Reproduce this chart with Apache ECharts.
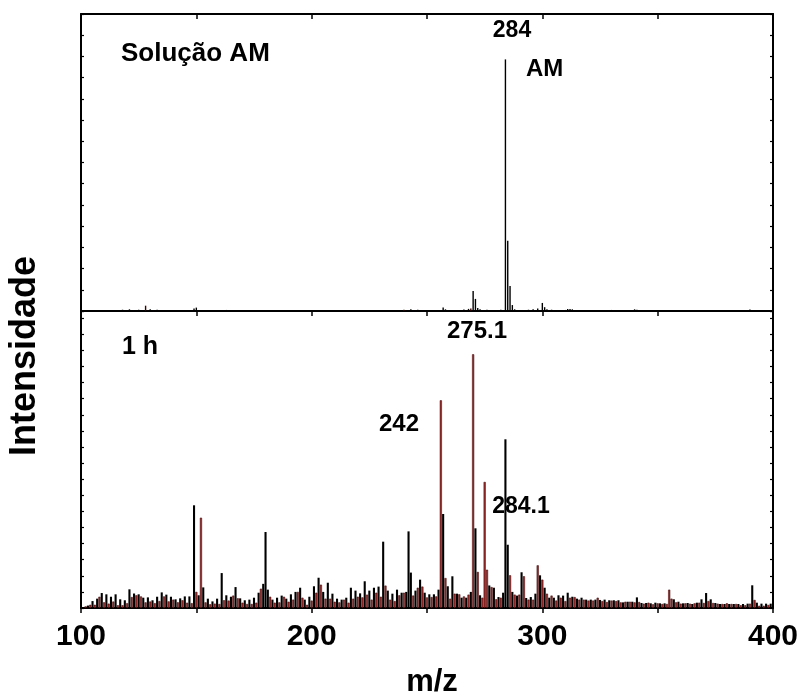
<!DOCTYPE html>
<html>
<head>
<meta charset="utf-8">
<script src="https://cdn.jsdelivr.net/npm/echarts@6/dist/echarts.min.js"></script>
<style>
html,body{margin:0;padding:0;background:#fff;}
#chart{width:803px;height:694px;}
</style>
</head>
<body>
<div id="chart"></div>
<script>
// ---- Data ----
// Top panel: "Solução AM" spectrum (m/z, relative intensity)
const mzAM = [110, 118, 121, 125, 128, 130, 133, 140, 149, 150, 163, 175, 200, 228, 240, 243, 246, 250, 257, 258, 266, 268, 269, 270, 271, 272, 273, 276, 282, 283, 284, 285, 286, 287, 288, 290, 294, 296, 298, 300, 301, 302, 304, 310, 311, 312, 313, 320, 330, 340, 341, 355, 365, 373, 390, 393];
const intensityAM = [0.5, 0.6, 0.8, 0.6, 2.5, 0.8, 0.6, 0.5, 1.2, 1.6, 0.5, 0.4, 0.4, 0.4, 0.6, 0.8, 0.6, 0.5, 1.6, 0.8, 0.7, 1.0, 1.2, 9.4, 5.7, 1.4, 0.8, 0.6, 0.6, 0.5, 118.6, 33.1, 11.8, 2.8, 0.8, 0.5, 0.6, 0.8, 1.2, 3.8, 1.8, 0.8, 0.6, 0.5, 0.9, 1.0, 0.8, 0.4, 0.5, 0.8, 0.6, 0.4, 0.4, 0.4, 0.7, 0.5];
const redAM = [128, 240, 269];

// Bottom panel: "1 h" spectrum, one value per integer m/z starting at 101
const mzStart1h = 101;
const intensity1h = [
  0.5, 1, 1.5, 2, 4.3, 2, 5.8, 7, 9.3, 3.5,
  8.5, 2.7, 7, 4, 8.5, 1.7, 5.4, 1.7, 4.8, 3,
  11.6, 6.8, 9, 7.9, 8.5, 7.2, 6.4, 3.5, 6.6, 4,
  4.8, 3, 7, 4.3, 9.7, 7.2, 8.3, 4.1, 7, 5.2,
  5.4, 3.5, 6, 4.8, 7.2, 3.3, 7.2, 3, 63.8, 10,
  7.9, 56.1, 12.8, 3.5, 5.8, 2.3, 4.1, 2.7, 5.8, 2.5,
  21.7, 4.8, 7.9, 4.6, 7, 7.7, 13, 6, 6, 3.3,
  4.8, 2.5, 5.2, 2.5, 6.4, 3.3, 9.5, 12, 15, 47.2,
  11.4, 7, 5.2, 3.3, 6.4, 3.5, 7.7, 7, 5.8, 3.9,
  8.5, 5.2, 10, 10, 12.6, 6.4, 5.2, 2, 7, 4.6,
  13.5, 9.5, 18.8, 14.5, 10, 5.8, 15.7, 5.8, 8.9, 3.9,
  5.8, 3.5, 5.2, 5.2, 6.4, 3.3, 12.6, 5.8, 10.8, 7,
  9.1, 6.6, 16.6, 8.3, 10.8, 5.2, 12.6, 9.5, 13.3, 7,
  41.2, 13.9, 10.8, 5.2, 8.9, 4.3, 11.4, 7.9, 9.5, 9.5,
  10, 47.6, 22, 7.7, 10.8, 12.6, 17.6, 13.3, 9.5, 6.6,
  8.5, 6.8, 8.5, 7.2, 11.4, 129, 58.4, 18.6, 13.5, 5.8,
  19.7, 8.9, 8.9, 8.5, 6.4, 7.2, 6.4, 8.3, 10, 157.6,
  49.5, 22.4, 7.9, 6.4, 78.3, 23.8, 14, 13, 12.6, 5.4,
  6.8, 6.4, 9.5, 104.8, 39.3, 20.3, 10, 8.3, 7.7, 8.3,
  22.2, 19.7, 6.2, 5.2, 6.8, 5.2, 8.9, 26.5, 20.3, 17.6,
  12.6, 8.9, 6.4, 7.7, 6.4, 4.6, 7.9, 6.4, 7.7, 4.3,
  9.5, 6.4, 7, 6.8, 5.8, 5.2, 6.4, 5.2, 5.2, 4.6,
  5.2, 4.6, 5.2, 6.4, 5, 4.3, 5.2, 3.7, 4.8, 4.6,
  4.8, 4.3, 4.8, 3.5, 3.5, 3.9, 3.9, 3.9, 3.9, 3.5,
  6.6, 3.7, 3.1, 2.7, 3.1, 3.3, 2.9, 2.3, 3.3, 2.9,
  2.9, 2.5, 2.9, 2.5, 11.4, 5.8, 5.4, 3.5, 3.9, 2.7,
  2.9, 2.9, 3.1, 2.7, 2.5, 2.9, 3.3, 3.3, 5.4, 3.1,
  9.3, 4.3, 5.4, 3.1, 3.1, 2.7, 2.5, 2.5, 2.5, 2.9,
  2.5, 2.5, 2.5, 2.5, 2.5, 1.7, 2.5, 1.7, 2.7, 2.7,
  14.1, 5, 3.3, 1.4, 2.7, 1.4, 2.7, 1.9, 2.7
];
const blackEvenPeaks = [180, 242, 284];
const redOddPeaks = [275, 355];

const xTickLabels = [100, 200, 300, 400];
const panelLabels = ['Solução AM', '1 h'];
const peakLabelsAM = ['284', 'AM'];
const peakLabels1h = ['275.1', '242', '284.1'];
const xAxisTitle = 'm/z';
const yAxisTitle = 'Intensidade';

// ---- Styles ----
const FONT = "'Liberation Sans', Arial, Helvetica, sans-serif";
const BLACK = '#000000';
const RED_FILL = '#9a2c2c';
const RED_EDGE = '#3c0000';

const dataAM = mzAM.map((m, i) => {
  const red = redAM.indexOf(m) >= 0;
  return { value: [m, intensityAM[i]], itemStyle: { color: red ? RED_EDGE : BLACK } };
});
const data1h = intensity1h.map((v, i) => {
  const m = mzStart1h + i;
  let red = (m % 2 === 0);
  if (blackEvenPeaks.indexOf(m) >= 0) red = false;
  if (redOddPeaks.indexOf(m) >= 0) red = true;
  return {
    value: [m, v],
    itemStyle: red ? { color: RED_FILL, borderColor: RED_EDGE, borderWidth: 0.5 } : { color: BLACK }
  };
});

function xAxisCfg(gridIndex, position, showLabels, tickInside, tickShow) {
  return {
    type: 'value', gridIndex: gridIndex, position: position,
    min: 100, max: 400, interval: 50,
    axisLine: { show: true, onZero: false, lineStyle: { color: BLACK, width: 2 } },
    axisTick: { show: tickShow, inside: tickInside, length: 5, lineStyle: { color: BLACK, width: 1.5 } },
    axisLabel: {
      show: showLabels, margin: 14,
      color: BLACK, fontFamily: FONT, fontWeight: 'bold', fontSize: 30,
      formatter: function (v) { return xTickLabels.indexOf(v) >= 0 ? String(v) : ''; }
    },
    splitLine: { show: false }
  };
}
function yAxisCfg(gridIndex, position, max) {
  return {
    type: 'value', gridIndex: gridIndex, position: position,
    min: 0, max: max, interval: 10,
    axisLine: { show: true, onZero: false, lineStyle: { color: BLACK, width: 2 } },
    axisTick: { show: true, inside: true, length: 3, lineStyle: { color: BLACK, width: 1.2 } },
    axisLabel: { show: false },
    splitLine: { show: false }
  };
}

const labelStyle = (size) => ({ fill: BLACK, font: 'bold ' + size + 'px ' + FONT });

const option = {
  animation: false,
  backgroundColor: '#ffffff',
  grid: [
    { left: 81, width: 692, top: 14, height: 297 },
    { left: 81, width: 692, top: 311, height: 297 }
  ],
  xAxis: [
    xAxisCfg(0, 'bottom', false, true, false),
    xAxisCfg(0, 'top', false, true, true),
    xAxisCfg(1, 'bottom', true, false, true),
    xAxisCfg(1, 'top', false, true, true)
  ],
  yAxis: [
    yAxisCfg(0, 'left', 140),
    yAxisCfg(0, 'right', 140),
    yAxisCfg(1, 'left', 184.5),
    yAxisCfg(1, 'right', 184.5)
  ],
  series: [
    { type: 'bar', xAxisIndex: 0, yAxisIndex: 0, data: dataAM, barWidth: 1.4, silent: true },
    { type: 'bar', xAxisIndex: 2, yAxisIndex: 2, data: data1h, barWidth: 2.1, silent: true }
  ],
  graphic: [
    { type: 'text', left: 121, top: 41, style: Object.assign({ text: panelLabels[0] }, labelStyle(26)) },
    { type: 'text', x: 512, y: 31, style: Object.assign({ text: peakLabelsAM[0], align: 'center', verticalAlign: 'middle' }, labelStyle(23)) },
    { type: 'text', x: 526, y: 69, style: Object.assign({ text: peakLabelsAM[1], align: 'left', verticalAlign: 'middle' }, labelStyle(24)) },
    { type: 'text', x: 122, y: 347, style: Object.assign({ text: panelLabels[1], align: 'left', verticalAlign: 'middle' }, labelStyle(25)) },
    { type: 'text', x: 477, y: 331, style: Object.assign({ text: peakLabels1h[0], align: 'center', verticalAlign: 'middle' }, labelStyle(24)) },
    { type: 'text', x: 399, y: 424, style: Object.assign({ text: peakLabels1h[1], align: 'center', verticalAlign: 'middle' }, labelStyle(24)) },
    { type: 'text', x: 521, y: 507, style: Object.assign({ text: peakLabels1h[2], align: 'center', verticalAlign: 'middle' }, labelStyle(23)) },
    { type: 'text', x: 432, y: 682, style: Object.assign({ text: xAxisTitle, align: 'center', verticalAlign: 'middle' }, labelStyle(31)) },
    { type: 'text', x: 25, y: 356, rotation: Math.PI / 2, style: Object.assign({ text: yAxisTitle, align: 'center', verticalAlign: 'middle' }, labelStyle(36)) }
  ]
};

const chart = echarts.init(document.getElementById('chart'), null, { renderer: 'canvas' });
chart.setOption(option);
</script>
</body>
</html>
